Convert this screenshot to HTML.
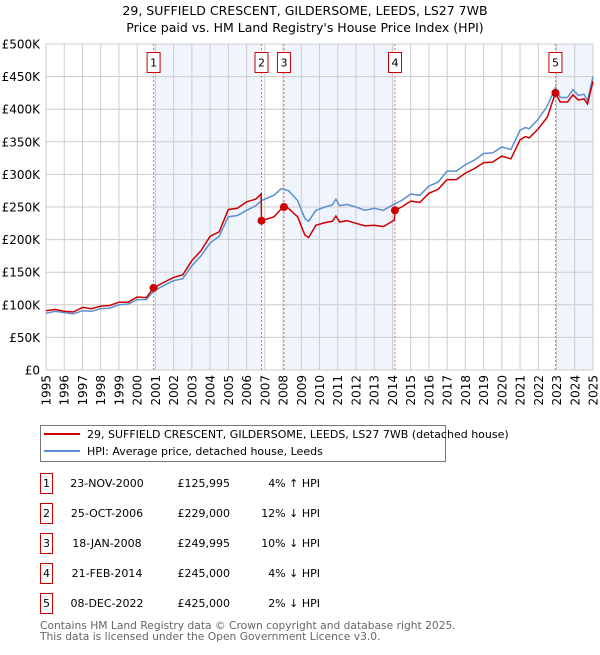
<!DOCTYPE html>
<html><head><meta charset="utf-8"><style>
body{margin:0;background:#fff;font-family:"Liberation Sans","DejaVu Sans",sans-serif;}
svg text{font-family:"DejaVu Sans","Liberation Sans",sans-serif;}
</style></head><body>
<svg id="c" width="600" height="650" xmlns="http://www.w3.org/2000/svg">
<text x="305" y="15" text-anchor="middle" font-size="12.5" fill="#000">29, SUFFIELD CRESCENT, GILDERSOME, LEEDS, LS27 7WB</text>
<text x="305" y="32" text-anchor="middle" font-size="12.5" fill="#000">Price paid vs. HM Land Registry's House Price Index (HPI)</text>
<g id="shade"></g><g id="grid"></g><g id="axes"></g><g id="vlines"></g><g id="lines"></g><g id="marks"></g>
<g>
<rect x="40.5" y="425.5" width="405" height="36" fill="#fff" stroke="#777"/>
<line x1="44" y1="434" x2="80" y2="434" stroke="#cc0000" stroke-width="2"/>
<text x="87" y="438" font-size="11">29, SUFFIELD CRESCENT, GILDERSOME, LEEDS, LS27 7WB (detached house)</text>
<line x1="44" y1="451" x2="80" y2="451" stroke="#5b8fd0" stroke-width="2"/>
<text x="87" y="455" font-size="11">HPI: Average price, detached house, Leeds</text>
</g>
<g id="table" font-size="11"></g>
<text x="40" y="629" font-size="10.7" fill="#666">Contains HM Land Registry data © Crown copyright and database right 2025.</text>
<text x="40" y="640" font-size="10.7" fill="#666">This data is licensed under the Open Government Licence v3.0.</text>
</svg>
<script>
const hpiDates=[1995.0,1995.5,1996.0,1996.5,1997.0,1997.5,1998.0,1998.5,1999.0,1999.5,2000.0,2000.5,2000.9,2001.5,2002.0,2002.5,2003.0,2003.5,2004.0,2004.5,2005.0,2005.5,2006.0,2006.5,2006.82,2007.5,2007.9,2008.3,2008.8,2009.2,2009.4,2009.8,2010.3,2010.7,2010.9,2011.1,2011.5,2012.0,2012.5,2013.0,2013.5,2014.14,2014.5,2015.0,2015.5,2016.0,2016.5,2017.0,2017.5,2018.0,2018.5,2019.0,2019.5,2020.0,2020.5,2021.0,2021.3,2021.5,2022.0,2022.5,2022.94,2023.2,2023.6,2023.9,2024.2,2024.5,2024.7,2025.0];
const hpiValues=[87,90,88,86,91,90,94,95,100,101,108,108,121,130,137,140,160,175,195,205,235,237,245,252,260,268,278,275,260,232,228,245,250,253,262,252,254,250,245,248,245,255,260,270,268,282,288,305,305,315,322,332,333,342,338,368,372,370,385,405,433,418,418,430,421,423,413,450];
const priceDates=[1995.0,1995.5,1996.0,1996.5,1997.0,1997.5,1998.0,1998.5,1999.0,1999.5,2000.0,2000.5,2000.9,2001.5,2002.0,2002.5,2003.0,2003.5,2004.0,2004.5,2005.0,2005.5,2006.0,2006.5,2006.8,2006.82,2007.5,2007.9,2008.05,2008.3,2008.8,2009.2,2009.4,2009.8,2010.3,2010.7,2010.9,2011.1,2011.5,2012.0,2012.5,2013.0,2013.5,2014.1,2014.14,2014.5,2015.0,2015.5,2016.0,2016.5,2017.0,2017.5,2018.0,2018.5,2019.0,2019.5,2020.0,2020.5,2021.0,2021.3,2021.5,2022.0,2022.5,2022.94,2023.2,2023.6,2023.9,2024.2,2024.5,2024.7,2025.0];
const priceValues=[91,93,90,89,96,94,98,99,104,104,112,111,126,135,142,146,168,183,205,212,246,248,258,262,270,229,235,247,250,248,235,207,203,222,226,228,236,227,229,225,221,222,220,230,245,250,259,257,271,277,292,292,302,309,318,319,328,324,353,358,356,370,388,425,411,411,422,414,416,408,443];
const saleLabels=["1","2","3","4","5"];
const saleDates=[2000.9,2006.82,2008.05,2014.14,2022.94];
const salePrices=[125995,229000,249995,245000,425000];
const saleDateText=["23-NOV-2000","25-OCT-2006","18-JAN-2008","21-FEB-2014","08-DEC-2022"];
const salePriceText=["£125,995","£229,000","£249,995","£245,000","£425,000"];
const saleHpiText=["4% ↑ HPI","12% ↓ HPI","10% ↓ HPI","4% ↓ HPI","2% ↓ HPI"];
const yTicks=[0,50,100,150,200,250,300,350,400,450,500];
const yTickLabels=["£0","£50K","£100K","£150K","£200K","£250K","£300K","£350K","£400K","£450K","£500K"];
const xYears=[1995,1996,1997,1998,1999,2000,2001,2002,2003,2004,2005,2006,2007,2008,2009,2010,2011,2012,2013,2014,2015,2016,2017,2018,2019,2020,2021,2022,2023,2024,2025];

const NS="http://www.w3.org/2000/svg";
const X0=46,X1=593,Y0=370,Y1=44;
const xs=t=>X0+(t-1995)/30*(X1-X0);
const ys=v=>Y0-v/500*(Y0-Y1);
function mk(tag,attrs,parent,txt){const e=document.createElementNS(NS,tag);for(const k in attrs)e.setAttribute(k,attrs[k]);if(txt!==undefined)e.textContent=txt;document.getElementById(parent).appendChild(e);return e;}

[[0,1],[2,3],[4,null]].forEach((p,i)=>{
 const a=xs(saleDates[p[0]]),b=p[1]===null?X1:xs(saleDates[p[1]]);
 const r=mk('rect',{x:a,y:Y1,width:b-a,height:Y0-Y1,fill:'#f0f4fd'},'shade');
 
 
});
yTicks.forEach((v,i)=>{
 const l=mk('line',{x1:X0,x2:X1,y1:ys(v),y2:ys(v),stroke:'#cccccc','stroke-width':1},'grid');
 
 
 const t=mk('text',{x:40,y:ys(v)+4.5,'text-anchor':'end','font-size':12},'axes',yTickLabels[i]);
 
 
});
xYears.forEach(y=>{
 const l=mk('line',{x1:xs(y),x2:xs(y),y1:Y1,y2:Y0,stroke:'#cccccc','stroke-width':1},'grid');
 
 
 const t=mk('text',{x:0,y:0,'font-size':12,'text-anchor':'end',transform:`translate(${xs(y)+4.5},375) rotate(-90)`},'axes',String(y));
 
 
});
saleDates.forEach((d,i)=>{
 const x=xs(d);
 const l=mk('line',{x1:x,x2:x,y1:Y1,y2:Y0,stroke:'#e87070','stroke-width':1,'stroke-dasharray':'2,2'},'vlines');
 
 
 const r=mk('rect',{x:x-6.5,y:52.5,width:13,height:20,fill:'#fff',stroke:'#cc0000'},'marks');
 
 
 const t=mk('text',{x:x,y:66.5,'text-anchor':'middle','font-size':11},'marks',saleLabels[i]);
 
 
});
function path(dates,vals){return dates.map((d,i)=>(i?'L':'M')+xs(d).toFixed(1)+','+ys(vals[i]).toFixed(1)).join('');}
const hp=mk('path',{d:path(hpiDates,hpiValues),fill:'none',stroke:'#5b8fd0','stroke-width':1.5},'lines');


const pp=mk('path',{d:path(priceDates,priceValues),fill:'none',stroke:'#cc0000','stroke-width':1.5},'lines');


saleDates.forEach((d,i)=>{
 const c=mk('circle',{cx:xs(d),cy:ys(salePrices[i]/1000),r:4,fill:'#cc0000'},'marks');
 
 
});
saleLabels.forEach((s,i)=>{
 const y=483+i*30;
 const r=mk('rect',{x:40.5,y:y-9.5,width:12,height:20,fill:'#fff',stroke:'#cc0000'},'table');
 
 
 const a=mk('text',{x:46.5,y:y+4,'text-anchor':'middle'},'table',s);
 
 
 const b=mk('text',{x:107,y:y+4,'text-anchor':'middle'},'table',saleDateText[i]);
 
 
 const c=mk('text',{x:230,y:y+4,'text-anchor':'end'},'table',salePriceText[i]);
 
 
 const e=mk('text',{x:320,y:y+4,'text-anchor':'end'},'table',saleHpiText[i]);
 
 
});
</script>
</body></html>
